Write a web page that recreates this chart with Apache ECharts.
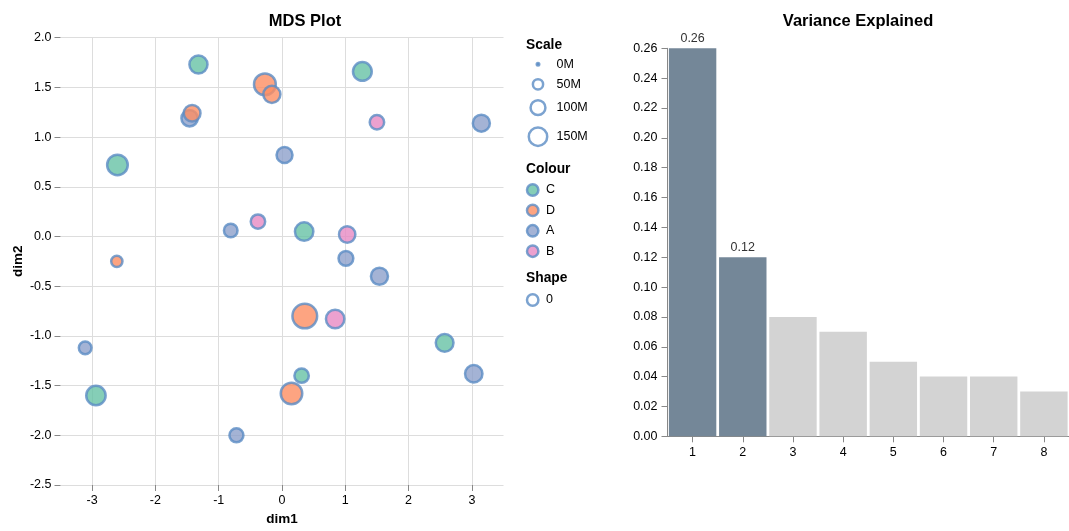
<!DOCTYPE html>
<html>
<head>
<meta charset="utf-8">
<script src="https://cdn.jsdelivr.net/npm/echarts@6/dist/echarts.min.js"></script>
<style>
  html, body { margin: 0; padding: 0; background: #fff; }
  #chart { width: 1069px; height: 531px; }
</style>
</head>
<body>
<div id="chart"></div>
<script>
const FONT = '"Liberation Sans", Arial, Helvetica, sans-serif';

// MDS coordinates, one entry per sample (listed in drawing order)
const sampleGroup = ['C', 'C', 'C', 'C', 'C', 'C', 'C',
                     'A', 'A', 'A', 'A', 'A', 'A', 'A', 'A', 'A',
                     'D', 'D', 'D', 'D', 'D', 'D',
                     'B', 'B', 'B', 'B'];
const dim1 = [-1.32, 1.27, -2.60, 0.35, 2.57, 0.31, -2.94,
              -1.46, 0.04, 3.15, -0.81, 1.01, 1.54, 3.03, -3.11, -0.72,
              -0.27, -0.16, -1.42, -2.61, 0.36, 0.15,
              -0.38, 1.50, 1.03, 0.84];
const dim2 = [1.73, 1.66, 0.72, 0.05, -1.07, -1.40, -1.60,
              1.19, 0.82, 1.14, 0.06, -0.22, -0.40, -1.38, -1.12, -2.00,
              1.53, 1.43, 1.24, -0.25, -0.80, -1.58,
              0.15, 1.15, 0.02, -0.83];
const scaleM = [145, 155, 185, 150, 140, 95, 165,
                120, 115, 130, 85, 100, 130, 135, 75, 90,
                205, 130, 125, 60, 260, 200,
                95, 95, 120, 150];

// Legend domains
const colourGroups = ['C', 'D', 'A', 'B'];
const groupColours = ['#66c2a5', '#fc8d62', '#8da0cb', '#e78ac3'];
const scaleLegendValues = [0, 50, 100, 150];
const shapeLegendValues = ['0'];

// Axis ticks
const dim1Ticks = [-3, -2, -1, 0, 1, 2, 3];

// Variance explained per component
const components = ['1', '2', '3', '4', '5', '6', '7', '8'];
const varianceExplained = [0.26, 0.12, 0.08, 0.07, 0.05, 0.04, 0.04, 0.03];
const keptComponents = 2;

const STROKE = 2.5;
const RING = '#5b8cc4';
const MARK_OPACITY = 0.8;

// area-proportional sizing: outer diameter grows with sqrt of the value
function symbolDiameter(m) {
  return Math.sqrt(2.75 * m + 25) - STROKE;
}
function groupColour(g) {
  return groupColours[colourGroups.indexOf(g)];
}

const points = dim1.map((x, i) => ({
  value: [x, dim2[i], scaleM[i]],
  itemStyle: { color: groupColour(sampleGroup[i]) }
}));

const barData = varianceExplained.map((v, i) => ({
  value: v,
  itemStyle: { color: i < keptComponents ? '#748798' : '#d3d3d3' },
  label: { show: i < keptComponents }
}));

// legend drawn as graphics
const legendX = 526;
const graphics = [];
function addText(text, x, y, opts) {
  graphics.push({
    type: 'text', x: x, y: y, silent: true,
    style: Object.assign({
      text: text, fill: '#000', fontFamily: FONT, fontSize: 12.5,
      textAlign: 'left', textVerticalAlign: 'middle'
    }, opts || {})
  });
}
function addCircle(cx, cy, r, fill) {
  graphics.push({
    type: 'circle', silent: true,
    shape: { cx: cx, cy: cy, r: r },
    style: { fill: fill, stroke: RING, lineWidth: STROKE, opacity: MARK_OPACITY }
  });
}
addText('Scale', legendX, 45, { fontWeight: 'bold', fontSize: 13.8 });
const scaleRows = [64.3, 84.3, 107.7, 136.7];
scaleLegendValues.forEach((v, i) => {
  addCircle(538, scaleRows[i], symbolDiameter(v) / 2, v === 0 ? RING : 'rgba(255,255,255,0)');
  addText(v + 'M', 556.5, scaleRows[i]);
});
addText('Colour', legendX, 169, { fontWeight: 'bold', fontSize: 13.8 });
colourGroups.forEach((g, i) => {
  const y = 190 + i * 20.4;
  addCircle(532.7, y, 5.7, groupColours[i]);
  addText(g, 546, y);
});
addText('Shape', legendX, 278.3, { fontWeight: 'bold', fontSize: 13.8 });
shapeLegendValues.forEach((s, i) => {
  const y = 300 + i * 20.4;
  addCircle(532.7, y, 5.7, '#fff');
  addText(s, 546, y);
});

const axisLabelStyle = { color: '#000', fontFamily: FONT, fontSize: 12.5 };
const tickStyle = { lineStyle: { color: '#888', width: 1 }, length: 6 };

const chart = echarts.init(document.getElementById('chart'), null, { renderer: 'canvas' });
chart.setOption({
  animation: false,
  backgroundColor: '#fff',
  title: [
    { text: 'MDS Plot', left: 300, top: 7.5, textAlign: 'center',
      textStyle: { fontFamily: FONT, fontSize: 16.5, fontWeight: 'bold', color: '#000' } },
    { text: 'Variance Explained', left: 853, top: 7.5, textAlign: 'center',
      textStyle: { fontFamily: FONT, fontSize: 16.5, fontWeight: 'bold', color: '#000' } }
  ],
  grid: [
    { left: 60.5, top: 37.7, width: 443, height: 448, containLabel: false },
    { left: 667.5, top: 48.3, width: 404, height: 388, containLabel: false }
  ],
  xAxis: [
    {
      gridIndex: 0, type: 'value', min: -3.5, max: 3.5, position: 'bottom',
      name: 'dim1', nameLocation: 'middle', nameGap: 27,
      nameTextStyle: { fontFamily: FONT, fontSize: 13.5, fontWeight: 'bold', color: '#000' },
      axisLine: { show: false, onZero: false },
      axisTick: Object.assign({ show: true, customValues: dim1Ticks }, tickStyle),
      axisLabel: Object.assign({ customValues: dim1Ticks, margin: 9 }, axisLabelStyle),
      splitLine: { show: true, lineStyle: { color: '#ddd', width: 1 } }
    },
    {
      gridIndex: 1, type: 'category', data: components, position: 'bottom',
      axisLine: { show: true, onZero: false, lineStyle: { color: '#888', width: 1 } },
      axisTick: Object.assign({ show: true, alignWithLabel: true }, tickStyle),
      axisLabel: Object.assign({ margin: 9.5 }, axisLabelStyle),
      splitLine: { show: false }
    }
  ],
  yAxis: [
    {
      gridIndex: 0, type: 'value', min: -2.5, max: 2.0, interval: 0.5, position: 'left',
      name: 'dim2', nameLocation: 'middle', nameGap: 35,
      nameTextStyle: { fontFamily: FONT, fontSize: 13.5, fontWeight: 'bold', color: '#000' },
      axisLine: { show: false, onZero: false },
      axisTick: Object.assign({ show: true }, tickStyle),
      axisLabel: Object.assign({ margin: 9, formatter: v => v.toFixed(1) }, axisLabelStyle),
      splitLine: { show: true, lineStyle: { color: '#ddd', width: 1 } }
    },
    {
      gridIndex: 1, type: 'value', min: 0, max: 0.26, interval: 0.02, position: 'left',
      axisLine: { show: true, onZero: false, lineStyle: { color: '#888', width: 1 } },
      axisTick: Object.assign({ show: true }, tickStyle),
      axisLabel: Object.assign({ margin: 10, formatter: v => v.toFixed(2) }, axisLabelStyle),
      splitLine: { show: false }
    }
  ],
  series: [
    {
      type: 'scatter', xAxisIndex: 0, yAxisIndex: 0,
      data: points,
      symbol: 'circle',
      symbolSize: v => symbolDiameter(v[2]),
      itemStyle: { borderColor: RING, borderWidth: STROKE, opacity: MARK_OPACITY },
      emphasis: { disabled: true }
    },
    {
      type: 'bar', xAxisIndex: 1, yAxisIndex: 1,
      data: barData,
      barCategoryGap: '5.5%',
      label: {
        position: 'top', distance: 3.5,
        fontFamily: FONT, fontSize: 12.5, color: '#333',
        formatter: p => p.value.toFixed(2)
      },
      emphasis: { disabled: true }
    }
  ],
  graphic: graphics
});
</script>
</body>
</html>
